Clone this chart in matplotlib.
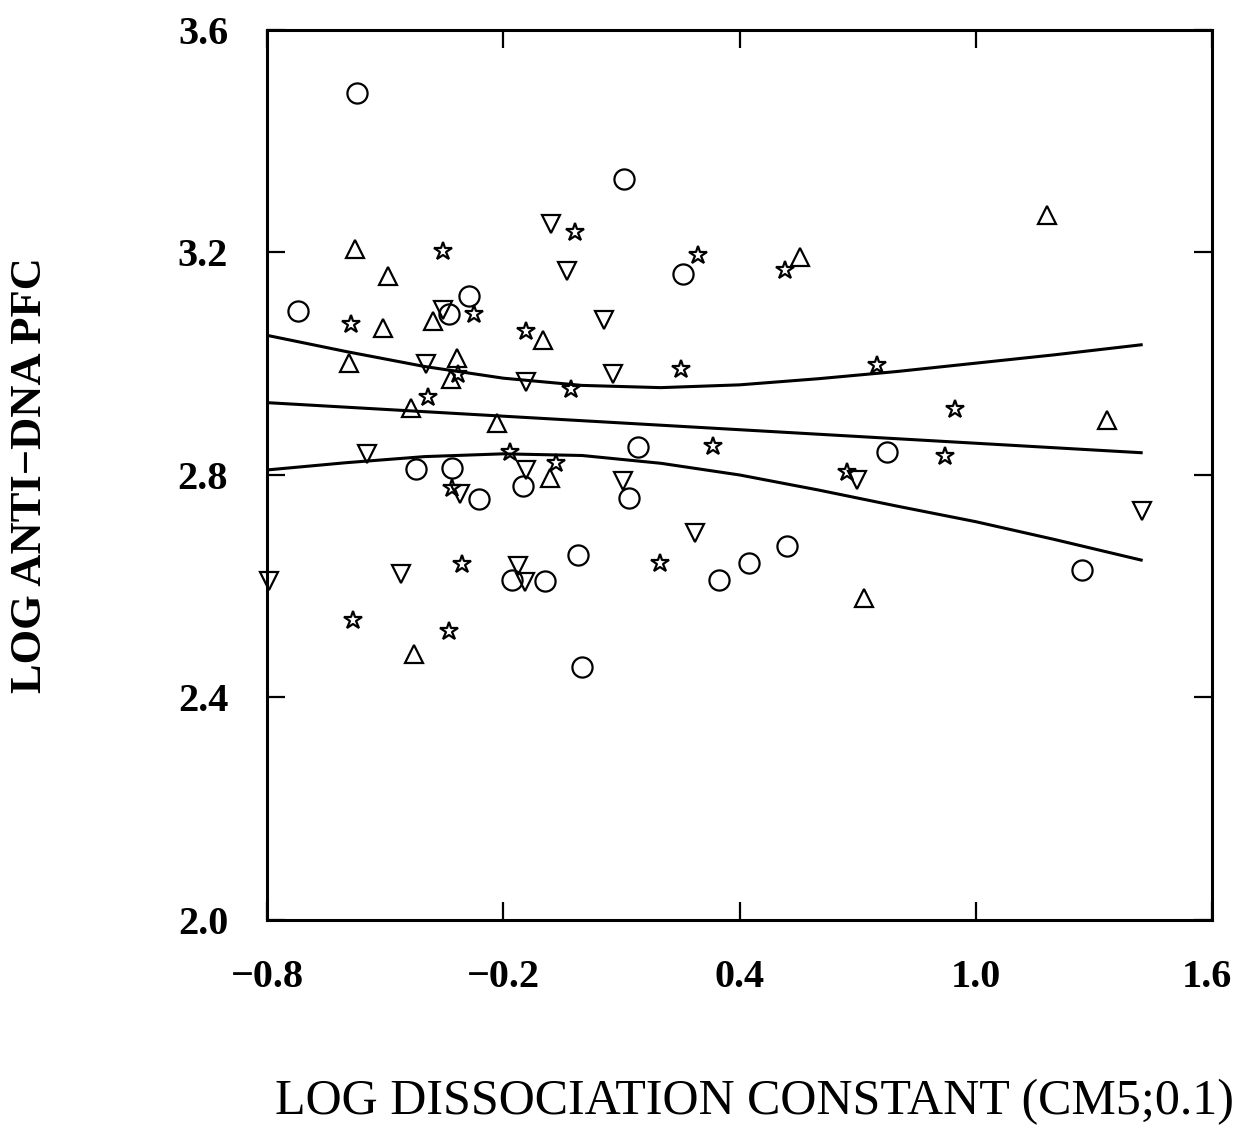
import numpy as np
import matplotlib
matplotlib.use('Agg')
import matplotlib.pyplot as plt
from matplotlib.transforms import ScaledTranslation

# values
circle_x = [-0.571, -0.721, -0.287, -0.338, 0.107, 0.257, -0.422, -0.330, -0.262, -0.150, 0.142,
            0.119, -0.178, -0.094, -0.010, 0.000, 0.348, 0.424, 0.521, 0.775, 1.270]
circle_y = [3.486, 3.094, 3.121, 3.090, 3.332, 3.162, 2.811, 2.813, 2.757, 2.780, 2.850,
            2.759, 2.611, 2.609, 2.656, 2.454, 2.611, 2.641, 2.672, 2.841, 2.629]

tri_up_x = [-0.577, -0.493, -0.505, -0.592, -0.378, -0.317, -0.333, -0.434, -0.216, -0.099, -0.081,
            0.554, 1.181, 1.333, 0.716, -0.427]
tri_up_y = [3.207, 3.157, 3.065, 3.002, 3.077, 3.011, 2.973, 2.921, 2.894, 3.043, 2.795,
            3.191, 3.267, 2.899, 2.578, 2.479]

tri_dn_x = [-0.079, -0.038, 0.056, -0.396, -0.353, -0.142, -0.546, -0.310, -0.142, 0.104, 0.079,
            -0.460, -0.163, -0.145, 0.287, 0.698, 1.422, -0.795]
tri_dn_y = [3.252, 3.166, 3.079, 3.000, 3.097, 2.968, 2.838, 2.766, 2.809, 2.789, 2.982,
            2.622, 2.636, 2.607, 2.695, 2.791, 2.735, 2.609]

star_x = [-0.353, -0.018, 0.295, 0.516, -0.587, -0.274, -0.142, -0.391, -0.315, -0.028, 0.251,
          0.749, -0.183, -0.066, -0.330, 0.333, 0.673, 0.922, 0.947, -0.305, 0.198, -0.582, -0.338]
star_y = [3.202, 3.236, 3.196, 3.169, 3.072, 3.090, 3.058, 2.941, 2.982, 2.955, 2.991,
          2.998, 2.841, 2.822, 2.777, 2.852, 2.805, 2.834, 2.919, 2.640, 2.641, 2.539, 2.519]

# regression line and confidence band
fit_x = [-0.8, 1.42]
fit_y = [2.930, 2.840]
band_x = [-0.8, -0.6, -0.4, -0.2, 0.0, 0.2, 0.4, 0.6, 0.8, 1.0, 1.2, 1.42]
band_hi = [3.051, 3.022, 2.995, 2.974, 2.961, 2.957, 2.962, 2.973, 2.986, 3.001, 3.016, 3.034]
band_lo = [2.809, 2.822, 2.833, 2.838, 2.835, 2.821, 2.800, 2.773, 2.744, 2.716, 2.684, 2.647]

xticks = [-0.8, -0.2, 0.4, 1.0, 1.6]
yticks = [2.0, 2.4, 2.8, 3.2, 3.6]

fig = plt.figure(figsize=(12.34, 11.39), dpi=100)
ax = fig.add_axes([0.2164, 0.1923, 0.7658, 0.7814])

mk = dict(ls='none', mfc='none', mec='black', mew=1.6, clip_on=False)
ax.plot(circle_x, circle_y, marker='o', ms=14.5, **mk)
ax.plot(tri_up_x, tri_up_y, marker='^', ms=12.5, **mk)
ax.plot(tri_dn_x, tri_dn_y, marker='v', ms=12.5, **mk)
ax.plot(star_x, star_y, marker='*', ms=13.5, **mk)

ax.plot(fit_x, fit_y, color='black', lw=2.2)
ax.plot(band_x, band_hi, color='black', lw=2.2)
ax.plot(band_x, band_lo, color='black', lw=2.2)

ax.set_xlim(-0.8, 1.6)
ax.set_ylim(2.0, 3.6)
ax.set_xticks(xticks)
ax.set_yticks(yticks)
ax.set_xticklabels(['\u22120.8', '\u22120.2', '0.4', '1.0', '1.6'])
ax.set_yticklabels(['%.1f' % v for v in yticks])
for s in ax.spines.values():
    s.set_linewidth(2.2)

ax.tick_params(direction='in', length=13, width=1.6, top=True, right=True,
               labelsize=29, pad=28)
for lab in ax.get_xticklabels() + ax.get_yticklabels():
    lab.set_family('Liberation Serif')
    lab.set_fontweight('bold')

# last x tick label sits right at the figure edge, nudge it in a bit
last = ax.xaxis.get_major_ticks()[-1].label1
last.set_transform(last.get_transform() + ScaledTranslation(-5 / 100, 0, fig.dpi_scale_trans))

ax.set_ylabel('LOG ANTI\u2212DNA PFC', family='Liberation Serif', fontweight='bold',
              fontsize=32)
ax.yaxis.set_label_coords(-0.2296, 0.50)
ax.set_xlabel('LOG DISSOCIATION CONSTANT (CM5;0.1)', family='Liberation Serif',
              fontsize=36)
ax.xaxis.set_label_coords(0.516, -0.178)

fig.savefig('out.png', dpi=100)
